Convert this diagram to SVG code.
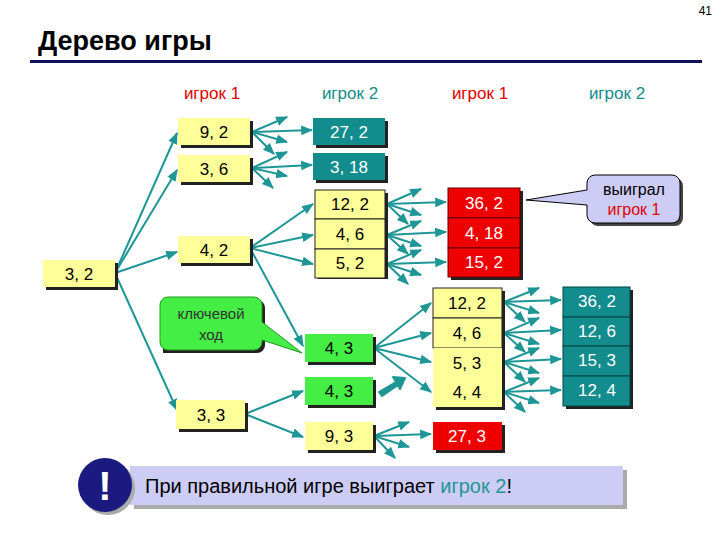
<svg xmlns="http://www.w3.org/2000/svg" width="720" height="540" viewBox="0 0 720 540">
<defs>
<marker id="ah" viewBox="0 0 10 10" refX="9" refY="5" markerWidth="6" markerHeight="6" orient="auto"><path d="M0,1 L10,5 L0,9 z" fill="#1e9696"/></marker>
<style>
text{font-family:"Liberation Sans",Arial,sans-serif}
.n text{font-size:17px;text-anchor:middle}
.sh{fill:#222}
.y{fill:#ffff99}.t{fill:#128c8c}.r{fill:#ee0000}.g{fill:#44ee44}
.w{fill:#fff}
#conn line{stroke:#1e9696;stroke-width:2;marker-end:url(#ah)}
.hd{font-size:17px;text-anchor:middle}
</style>
</defs>
<rect width="720" height="540" fill="#fff"/>
<text x="712" y="15" font-size="12" text-anchor="end">41</text>
<text x="38" y="50" font-size="27" font-weight="bold">Дерево игры</text>
<rect x="30" y="60" width="672" height="3" fill="#101060"/>
<text class="hd" x="212" y="99" fill="#e00000">игрок 1</text>
<text class="hd" x="350" y="99" fill="#128c8c">игрок 2</text>
<text class="hd" x="480" y="99" fill="#e00000">игрок 1</text>
<text class="hd" x="617" y="99" fill="#128c8c">игрок 2</text>

<g id="conn">
<line x1="115" y1="273" x2="177" y2="133"/>
<line x1="115" y1="273" x2="177" y2="170"/>
<line x1="115" y1="273" x2="177" y2="252"/>
<line x1="115" y1="273" x2="177" y2="410"/>
<line x1="252" y1="132" x2="312" y2="130"/>
<line x1="252" y1="132" x2="287" y2="117"/>
<line x1="252" y1="132" x2="287" y2="142"/>
<line x1="252" y1="132" x2="274" y2="154"/>
<line x1="252" y1="168" x2="312" y2="165"/>
<line x1="252" y1="168" x2="287" y2="152"/>
<line x1="252" y1="168" x2="287" y2="176"/>
<line x1="252" y1="168" x2="273" y2="188"/>
<line x1="250" y1="248" x2="313" y2="204"/>
<line x1="250" y1="248" x2="313" y2="235"/>
<line x1="250" y1="248" x2="313" y2="264"/>
<line x1="250" y1="248" x2="303" y2="346"/>
<line x1="387" y1="204" x2="446" y2="202"/>
<line x1="387" y1="204" x2="421" y2="189"/>
<line x1="387" y1="204" x2="421" y2="215"/>
<line x1="387" y1="204" x2="408" y2="224"/>
<line x1="387" y1="235" x2="446" y2="232"/>
<line x1="387" y1="235" x2="421" y2="221"/>
<line x1="387" y1="235" x2="421" y2="246"/>
<line x1="387" y1="235" x2="408" y2="254"/>
<line x1="387" y1="264" x2="446" y2="262"/>
<line x1="387" y1="264" x2="421" y2="250"/>
<line x1="387" y1="264" x2="421" y2="275"/>
<line x1="387" y1="264" x2="408" y2="284"/>
<line x1="374" y1="348" x2="431" y2="303"/>
<line x1="374" y1="348" x2="431" y2="333"/>
<line x1="374" y1="348" x2="431" y2="362"/>
<line x1="374" y1="348" x2="431" y2="392"/>
<line x1="245" y1="414" x2="303" y2="391"/>
<line x1="245" y1="414" x2="303" y2="437"/>
<line x1="374" y1="436" x2="431" y2="434"/>
<line x1="374" y1="436" x2="409" y2="422"/>
<line x1="374" y1="436" x2="409" y2="447"/>
<line x1="374" y1="436" x2="395" y2="458"/>
<line x1="504" y1="302" x2="561" y2="300"/>
<line x1="504" y1="302" x2="539" y2="288"/>
<line x1="504" y1="302" x2="539" y2="313"/>
<line x1="504" y1="302" x2="525" y2="322"/>
<line x1="504" y1="333" x2="561" y2="330"/>
<line x1="504" y1="333" x2="539" y2="318"/>
<line x1="504" y1="333" x2="539" y2="344"/>
<line x1="504" y1="333" x2="525" y2="352"/>
<line x1="504" y1="362" x2="561" y2="359"/>
<line x1="504" y1="362" x2="539" y2="348"/>
<line x1="504" y1="362" x2="539" y2="373"/>
<line x1="504" y1="362" x2="525" y2="382"/>
<line x1="504" y1="392" x2="561" y2="390"/>
<line x1="504" y1="392" x2="539" y2="378"/>
<line x1="504" y1="392" x2="539" y2="403"/>
<line x1="504" y1="392" x2="525" y2="412"/>
<path d="M379,392 L396,382 L393,377 L405,378 L400,389 L398,385 L382,396 z" fill="#1e9696" stroke="#1e9696" stroke-width="2" stroke-linejoin="round"/>
</g>

<g id="cb1"><path d="M170,297 H254 a8,8 0 0 1 8,8 V342 a8,8 0 0 1 -8,8 H160 V305 a8,8 0 0 1 8,-8z" fill="#222" transform="translate(3,3)"/>
<path d="M168,297 H254 a8,8 0 0 1 8,8 V322 L302,353 L262,340 V342 a8,8 0 0 1 -8,8 H168 a8,8 0 0 1 -8,-8 V305 a8,8 0 0 1 8,-8z" fill="#44ee44" stroke="#229922" stroke-width="1"/>
<text x="211" y="319" font-size="15" text-anchor="middle" fill="#333">ключевой</text><text x="211" y="340" font-size="15" text-anchor="middle" fill="#333">ход</text></g>
<g id="cb2"><rect x="590" y="178" width="93" height="48" rx="8" fill="#444"/>
<path d="M595,175 H672 a8,8 0 0 1 8,8 V215 a8,8 0 0 1 -8,8 H595 a8,8 0 0 1 -8,-8 V205 L526,200 L587,190 V183 a8,8 0 0 1 8,-8z" fill="#ccccf5" stroke="#000" stroke-width="1"/>
<text x="634" y="195" font-size="16" text-anchor="middle">выиграл</text><text x="634" y="215" font-size="16" text-anchor="middle" fill="#e00000">игрок 1</text></g>

<g class="n">
<g id="n32"><rect class="sh" x="46" y="263" width="72" height="27"/><rect class="y" x="43" y="260" width="72" height="27"/><text x="79" y="280">3, 2</text></g>
<g id="n92"><rect class="sh" x="181" y="121" width="72" height="27"/><rect class="y" x="178" y="118" width="72" height="27"/><text x="214" y="138">9, 2</text></g>
<g id="n36"><rect class="sh" x="181" y="158" width="72" height="27"/><rect class="y" x="178" y="155" width="72" height="27"/><text x="214" y="175">3, 6</text></g>
<g id="n42"><rect class="sh" x="181" y="239" width="72" height="27"/><rect class="y" x="178" y="236" width="72" height="27"/><text x="214" y="256">4, 2</text></g>
<g id="n33"><rect class="sh" x="179" y="403" width="69" height="29"/><rect class="y" x="176" y="400" width="69" height="29"/><text x="211" y="421">3, 3</text></g>
<g id="n272"><rect class="sh" x="316" y="121" width="72" height="27"/><rect class="t" x="313" y="118" width="72" height="27"/><text class="w" x="349" y="138">27, 2</text></g>
<g id="n318"><rect class="sh" x="316" y="156" width="72" height="27"/><rect class="t" x="313" y="153" width="72" height="27"/><text class="w" x="349" y="173">3, 18</text></g>
<g id="n122a"><rect class="sh" x="318" y="193" width="70" height="86"/><rect class="y" x="315" y="190" width="70" height="29" stroke="#222"/><text x="350" y="210">12, 2</text></g>
<g id="n46a"><rect class="y" x="315" y="219" width="70" height="30" stroke="#222"/><text x="350" y="240">4, 6</text></g>
<g id="n52"><rect class="y" x="315" y="249" width="70" height="29" stroke="#222"/><text x="350" y="269">5, 2</text></g>
<g id="n43a"><rect class="sh" x="308" y="337" width="68" height="28"/><rect class="g" x="305" y="334" width="68" height="28"/><text x="339" y="354">4, 3</text></g>
<g id="n43b"><rect class="sh" x="308" y="380" width="68" height="28"/><rect class="g" x="305" y="377" width="68" height="28"/><text x="339" y="397">4, 3</text></g>
<g id="n93"><rect class="sh" x="308" y="425" width="68" height="28"/><rect class="y" x="305" y="422" width="68" height="28"/><text x="339" y="442">9, 3</text></g>
<g id="n362r"><rect class="sh" x="451" y="191" width="72" height="89"/><rect class="r" x="448" y="188" width="72" height="30" stroke="#600"/><text class="w" x="484" y="209">36, 2</text></g>
<g id="n418"><rect class="r" x="448" y="218" width="72" height="30" stroke="#600"/><text class="w" x="484" y="239">4, 18</text></g>
<g id="n152"><rect class="r" x="448" y="248" width="72" height="29" stroke="#600"/><text class="w" x="484" y="268">15, 2</text></g>
<g id="n122b"><rect class="sh" x="436" y="291" width="69" height="119"/><rect class="y" x="433" y="288" width="69" height="30" stroke="#222"/><text x="467" y="309">12, 2</text></g>
<g id="n46b"><rect class="y" x="433" y="318" width="69" height="30" stroke="#222"/><text x="467" y="339">4, 6</text></g>
<g id="n53"><rect class="y" x="433" y="348" width="69" height="30"/><text x="467" y="369">5, 3</text></g>
<g id="n44"><rect class="y" x="433" y="378" width="69" height="29"/><text x="467" y="398">4, 4</text></g>
<g id="n273"><rect class="sh" x="436" y="425" width="69" height="28"/><rect class="r" x="433" y="422" width="69" height="28"/><text class="w" x="467" y="442">27, 3</text></g>
<g id="n362t"><rect class="sh" x="566" y="290" width="67" height="119"/><rect class="t" x="563" y="287" width="67" height="30" stroke="#044"/><text class="w" x="597" y="307">36, 2</text></g>
<g id="n126"><rect class="t" x="563" y="317" width="67" height="29" stroke="#044"/><text class="w" x="597" y="337">12, 6</text></g>
<g id="n153"><rect class="t" x="563" y="346" width="67" height="30" stroke="#044"/><text class="w" x="597" y="366">15, 3</text></g>
<g id="n124"><rect class="t" x="563" y="376" width="67" height="30" stroke="#044"/><text class="w" x="597" y="396">12, 4</text></g>
</g>

<g id="note">
<rect x="134" y="470" width="493" height="39" fill="#aaa"/>
<rect x="130" y="466" width="493" height="39" fill="#ccccf5"/>
<circle cx="108" cy="488" r="27" fill="#aaa"/>
<circle cx="105" cy="485" r="27" fill="#1a1a80"/>
<text x="105" y="500" font-size="40" font-weight="bold" fill="#fff" text-anchor="middle">!</text>
<text x="145" y="493" font-size="20">При правильной игре выиграет <tspan fill="#1e9696">игрок 2</tspan>!</text>
</g>
</svg>
